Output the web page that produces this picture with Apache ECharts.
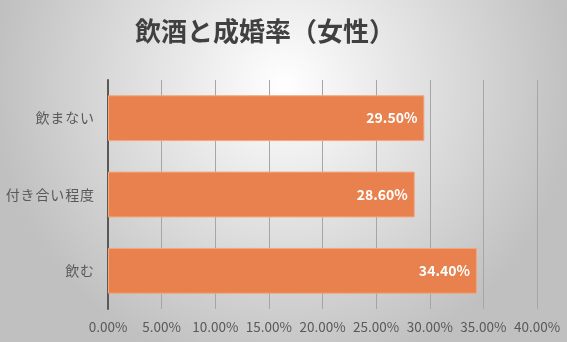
<!DOCTYPE html>
<html>
<head>
<meta charset="utf-8">
<script src="https://cdn.jsdelivr.net/npm/echarts@6/dist/echarts.min.js"></script>
<style>html,body{margin:0;padding:0;}#c{width:567px;height:342px;}</style>
</head>
<body>
<div id="c"></div>
<script>
const categories = ['飲まない', '付き合い程度', '飲む'];
const values = [29.5, 28.6, 34.4];
const xTicks = [0, 5, 10, 15, 20, 25, 30, 35, 40];

const chart = echarts.init(document.getElementById('c'));
const font = '"Noto Sans CJK JP", "Noto Sans", sans-serif';
chart.setOption({
  animation: false,
  backgroundColor: {
    type: 'radial', x: 0.5, y: 0.25, r: 0.85,
    colorStops: [{offset: 0, color: '#ffffff'}, {offset: 1, color: '#c0c0c0'}]
  },
  title: {
    text: '飲酒と成婚率（女性）',
    left: 130, top: 13,
    textStyle: {fontFamily: font, fontSize: 26, fontWeight: 'bold', color: '#404040'}
  },
  grid: {left: 108, right: 30, top: 80, bottom: 33, containLabel: false},
  xAxis: {
    type: 'value', min: xTicks[0], max: xTicks[xTicks.length - 1], interval: 5,
    axisLine: {show: false}, axisTick: {show: false},
    splitLine: {show: true, lineStyle: {color: '#a6a6a6', width: 1}},
    axisLabel: {
      formatter: v => v.toFixed(2) + '%', margin: 11,
      fontFamily: font, fontSize: 13.5, color: '#595959'
    }
  },
  yAxis: {
    type: 'category', data: categories, inverse: true,
    axisLine: {show: true, lineStyle: {color: '#595959', width: 2}},
    axisTick: {show: false},
    axisLabel: {
      fontFamily: font, fontSize: 14, color: '#595959', margin: 14,
      formatter: v => v.split('').join('\u200A')
    }
  },
  series: [{
    type: 'bar', data: values, barCategoryGap: '40%',
    itemStyle: {color: '#E8814D', borderColor: '#F2A77E', borderWidth: 1},
    label: {
      show: true, position: 'insideRight', distance: 7,
      formatter: p => p.value.toFixed(2) + '%',
      fontFamily: font, fontSize: 14, fontWeight: 'bold', color: '#ffffff'
    }
  }]
});
</script>
</body>
</html>
